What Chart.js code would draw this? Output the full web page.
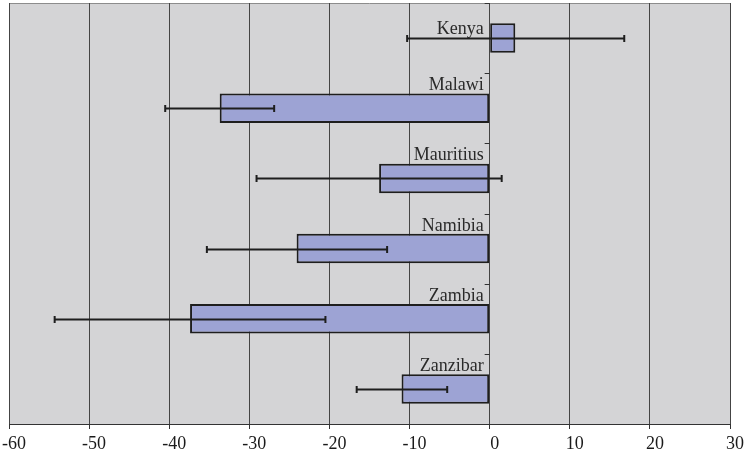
<!DOCTYPE html>
<html>
<head>
<meta charset="utf-8">
<script src="https://cdn.jsdelivr.net/npm/chart.js@4/dist/chart.umd.min.js"></script>
<style>
  html, body { margin: 0; padding: 0; background: #ffffff; }
  canvas { display: block; }
</style>
</head>
<body>
<canvas id="chart" width="747" height="456"></canvas>
<script>
// Change estimates per country, with lower / upper interval bounds
const countries = ['Kenya', 'Malawi', 'Mauritius', 'Namibia', 'Zambia', 'Zanzibar'];
const changes   = [3.2, -33.7, -13.8, -24.1, -37.4, -11.0];
const errLow    = [-10.3, -40.5, -29.1, -35.3, -54.3, -16.6];
const errHigh   = [16.8, -26.9, 1.5, -12.8, -20.5, -5.3];
const xTicks    = [-60, -50, -40, -30, -20, -10, 0, 10, 20, 30];

const serif = '"Liberation Serif", "Times New Roman", serif';
const ink = '#1e1e1e';

// Grey plot background with a light top edge
const plotFrame = {
  id: 'plotFrame',
  beforeDraw(chart) {
    const { ctx, chartArea: a } = chart;
    ctx.save();
    ctx.fillStyle = '#d4d4d6';
    ctx.fillRect(a.left, a.top, a.right - a.left, a.bottom - a.top);
    ctx.strokeStyle = '#8c8c8c';
    ctx.lineWidth = 1;
    ctx.beginPath();
    ctx.moveTo(a.left, a.top + 0.5);
    ctx.lineTo(a.right, a.top + 0.5);
    ctx.stroke();
    ctx.restore();
  }
};

// Interval whiskers, category ticks on the zero line, and country names
const overlays = {
  id: 'overlays',
  afterDatasetsDraw(chart) {
    const { ctx } = chart;
    const xs = chart.scales.x;
    const ys = chart.scales.y;
    const meta = chart.getDatasetMeta(0);
    const x0 = xs.getPixelForValue(0);
    ctx.save();

    // whiskers
    ctx.strokeStyle = ink;
    ctx.lineWidth = 2;
    meta.data.forEach((bar, i) => {
      const y = Math.round(bar.y) + 0.5;
      const xl = xs.getPixelForValue(errLow[i]);
      const xh = xs.getPixelForValue(errHigh[i]);
      ctx.beginPath();
      ctx.moveTo(xl, y); ctx.lineTo(xh, y);
      ctx.moveTo(xl, y - 3.5); ctx.lineTo(xl, y + 3.5);
      ctx.moveTo(xh, y - 3.5); ctx.lineTo(xh, y + 3.5);
      ctx.stroke();
    });

    // small ticks on the zero line at category boundaries
    ctx.lineWidth = 1;
    ctx.strokeStyle = '#333';
    const band = (ys.getPixelForValue(1) - ys.getPixelForValue(0));
    for (let i = 0; i <= countries.length; i++) {
      const y = Math.round(ys.getPixelForValue(i) - band / 2) + 0.5;
      ctx.beginPath();
      ctx.moveTo(x0 - 5, y); ctx.lineTo(x0, y);
      ctx.stroke();
    }

    // country names
    ctx.fillStyle = '#2a2a2a';
    ctx.font = '18px ' + serif;
    ctx.textAlign = 'right';
    ctx.textBaseline = 'alphabetic';
    meta.data.forEach((bar, i) => {
      const base = changes[i] >= 0 ? bar.y - 4 : bar.y - 18;
      ctx.fillText(countries[i], x0 - 6, base);
    });
    ctx.restore();
  }
};

new Chart(document.getElementById('chart'), {
  type: 'bar',
  data: {
    labels: countries,
    datasets: [{
      data: changes,
      backgroundColor: '#9da3d4',
      borderColor: ink,
      borderWidth: 2,
      borderSkipped: false,
      barPercentage: 0.42,
      categoryPercentage: 1.0
    }]
  },
  options: {
    indexAxis: 'y',
    responsive: false,
    animation: false,
    devicePixelRatio: 1,
    layout: { padding: { left: 9, right: 17, top: 3, bottom: -3 } },
    plugins: { legend: { display: false }, tooltip: { enabled: false } },
    scales: {
      x: {
        type: 'linear',
        min: -60,
        max: 30,
        afterBuildTicks(scale) { scale.ticks = xTicks.map(v => ({ value: v })); },
        afterFit(scale) { scale.paddingLeft = 0; scale.paddingRight = 0; },
        grid: { color: '#444', lineWidth: 1, tickLength: 5, tickColor: '#333' },
        border: { color: '#333', width: 1 },
        ticks: {
          color: '#1a1a1a',
          font: { family: serif, size: 18, lineHeight: 1.0 },
          padding: 6,
          labelOffset: 5,
          maxRotation: 0,
          autoSkip: false
        }
      },
      y: {
        display: false,
        offset: true
      }
    }
  },
  plugins: [plotFrame, overlays]
});
</script>
</body>
</html>
